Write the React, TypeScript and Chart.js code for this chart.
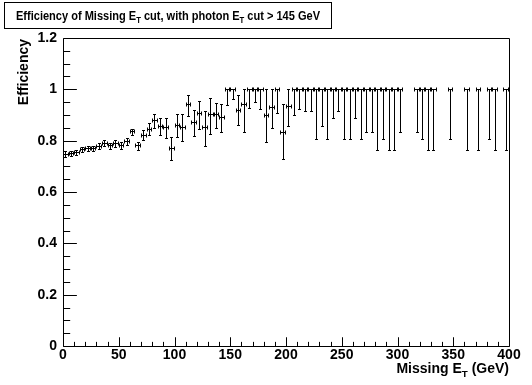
import React, { useEffect, useRef } from "react";
import { Chart, registerables } from "chart.js";
Chart.register(...registerables);

// Bin centres (GeV) of the filled bins, 5 GeV wide
const binCenters = [
  2.5, 7.5, 12.5, 17.5, 22.5, 27.5, 32.5, 37.5, 42.5, 47.5,
  52.5, 57.5, 62.5, 67.5, 72.5, 77.5, 82.5, 87.5, 92.5, 97.5,
  102.5, 107.5, 112.5, 117.5, 122.5, 127.5, 132.5, 137.5, 142.5, 147.5,
  152.5, 157.5, 162.5, 167.5, 172.5, 177.5, 182.5, 187.5, 192.5, 197.5,
  202.5, 207.5, 212.5, 217.5, 222.5, 227.5, 232.5, 237.5, 242.5, 247.5,
  252.5, 257.5, 262.5, 267.5, 272.5, 277.5, 282.5, 287.5, 292.5, 297.5,
  302.5, 317.5, 322.5, 327.5, 332.5, 347.5, 362.5, 372.5, 382.5, 387.5,
  397.5,
];
const efficiency = [
  0.748, 0.75, 0.755, 0.766, 0.769, 0.77, 0.779, 0.79, 0.78, 0.79,
  0.78, 0.796, 0.835, 0.78, 0.822, 0.845, 0.878, 0.857, 0.852, 0.77,
  0.861, 0.852, 0.941, 0.871, 0.904, 0.85, 0.901, 0.901, 0.889, 1.0,
  1.0, 0.919, 0.939, 1.0, 1.0, 1.0, 0.9, 0.928, 1.0, 0.832,
  0.935, 1.0, 1.0, 1.0, 1.0, 1.0, 1.0, 1.0, 1.0, 1.0,
  1.0, 1.0, 1.0, 1.0, 1.0, 1.0, 1.0, 1.0, 1.0, 1.0,
  1.0, 1.0, 1.0, 1.0, 1.0, 1.0, 1.0, 1.0, 1.0, 1.0,
  1.0,
];
const errorLow = [
  0.01, 0.01, 0.01, 0.01, 0.01, 0.011, 0.011, 0.012, 0.012, 0.013,
  0.013, 0.014, 0.012, 0.016, 0.02, 0.024, 0.029, 0.035, 0.04, 0.045,
  0.046, 0.055, 0.046, 0.052, 0.06, 0.072, 0.075, 0.05, 0.054, 0.061,
  0.039, 0.058, 0.105, 0.072, 0.051, 0.078, 0.104, 0.08, 0.091, 0.105,
  0.078, 0.1, 0.078, 0.083, 0.083, 0.195, 0.142, 0.195, 0.111, 0.083,
  0.195, 0.195, 0.111, 0.195, 0.165, 0.165, 0.236, 0.195, 0.236, 0.236,
  0.165, 0.165, 0.195, 0.236, 0.236, 0.195, 0.236, 0.236, 0.195, 0.236,
  0.236,
];
const errorHigh = [
  0.01, 0.01, 0.01, 0.01, 0.01, 0.011, 0.011, 0.012, 0.012, 0.013,
  0.013, 0.014, 0.012, 0.016, 0.019, 0.022, 0.026, 0.032, 0.037, 0.043,
  0.042, 0.05, 0.035, 0.047, 0.05, 0.065, 0.065, 0.045, 0.052, 0,
  0, 0.059, 0.061, 0, 0, 0, 0.1, 0.072, 0, 0.109,
  0.065, 0, 0, 0, 0, 0, 0, 0, 0, 0,
  0, 0, 0, 0, 0, 0, 0, 0, 0, 0,
  0, 0, 0, 0, 0, 0, 0, 0, 0, 0,
  0,
];
const binHalfWidth = 2.5;

const xMin = 0;
const xMax = 400;
const xMajorStep = 50;
const xMinorStep = 10;
const yMin = 0;
const yMax = 1.2;
const yMajorStep = 0.2;
const yMinorStep = 0.05;

const titleParts: [string, boolean][] = [
  ["Efficiency of Missing E", false],
  ["T", true],
  [" cut, with photon E", false],
  ["T", true],
  [" cut > 145 GeV", false],
];
const xTitleParts: [string, boolean][] = [
  ["Missing E", false],
  ["T", true],
  [" (GeV)", false],
];
const yTitle = "Efficiency";

const FONT = '"Liberation Sans", Arial, Helvetica, sans-serif';

function measureParts(ctx: CanvasRenderingContext2D, parts: [string, boolean][], size: number) {
  const subSize = size * 0.7;
  return parts.map(([t, sub]) => {
    ctx.font = `bold ${sub ? subSize : size}px ${FONT}`;
    return ctx.measureText(t).width;
  });
}

function drawParts(
  ctx: CanvasRenderingContext2D,
  parts: [string, boolean][],
  x: number,
  y: number,
  size: number,
  align: "left" | "right"
) {
  const subSize = size * 0.7;
  const widths = measureParts(ctx, parts, size);
  const total = widths.reduce((a, b) => a + b, 0);
  let cx = align === "left" ? x : x - total;
  ctx.textAlign = "left";
  ctx.textBaseline = "alphabetic";
  parts.forEach(([t, sub], i) => {
    ctx.font = `bold ${sub ? subSize : size}px ${FONT}`;
    ctx.fillText(t, cx, sub ? y + size * 0.3 : y);
    cx += widths[i];
  });
  return total;
}

const rootStyle = {
  id: "rootStyle",
  afterDatasetsDraw(chart: any) {
    const { ctx, scales } = chart;
    const xs = scales.x;
    const ys = scales.y;
    ctx.save();
    ctx.strokeStyle = "#000";
    ctx.lineWidth = 1;
    const data = chart.data.datasets[0].data as any[];
    data.forEach((p) => {
      const cx = Math.floor(xs.getPixelForValue(p.x)) + 0.5;
      const cy = Math.floor(ys.getPixelForValue(p.y)) + 0.5;
      const x0 = Math.round(xs.getPixelForValue(p.x - binHalfWidth)) + 0.5;
      const x1 = Math.round(xs.getPixelForValue(p.x + binHalfWidth)) - 0.5;
      const yl = Math.round(ys.getPixelForValue(p.y - p.lo)) + 0.5;
      const yh = Math.round(ys.getPixelForValue(p.y + p.hi)) + 0.5;
      ctx.beginPath();
      ctx.moveTo(x0, cy);
      ctx.lineTo(x1, cy);
      ctx.moveTo(x0, cy - 2);
      ctx.lineTo(x0, cy + 2);
      ctx.moveTo(x1, cy - 2);
      ctx.lineTo(x1, cy + 2);
      if (yl - cy > 0.6) {
        ctx.moveTo(cx, cy);
        ctx.lineTo(cx, yl);
        ctx.moveTo(cx - 1.5, yl);
        ctx.lineTo(cx + 1.5, yl);
      }
      if (cy - yh > 0.6) {
        ctx.moveTo(cx, cy);
        ctx.lineTo(cx, yh);
        ctx.moveTo(cx - 1.5, yh);
        ctx.lineTo(cx + 1.5, yh);
      }
      ctx.stroke();
    });
    ctx.restore();
  },
  afterDraw(chart: any) {
    const { ctx, chartArea: a, scales } = chart;
    const xs = scales.x;
    const ys = scales.y;
    ctx.save();
    ctx.strokeStyle = "#000";
    ctx.lineWidth = 1;
    const L = Math.round(a.left) + 0.5;
    const R = Math.round(a.right) + 0.5;
    const T = Math.round(a.top) + 0.5;
    const B = Math.round(a.bottom) + 0.5;
    ctx.beginPath();
    ctx.rect(L, T, R - L, B - T);
    ctx.stroke();
    const h = B - T;
    const w = R - L;
    const xMajLen = 0.03 * h;
    const yMajLen = 0.03 * w;
    ctx.beginPath();
    for (let i = 0; xMin + i * xMinorStep <= xMax + 1e-9; i++) {
      const v = xMin + i * xMinorStep;
      const px = Math.round(xs.getPixelForValue(v)) + 0.5;
      const isMaj = Math.abs(v / xMajorStep - Math.round(v / xMajorStep)) < 1e-6;
      ctx.moveTo(px, B);
      ctx.lineTo(px, B - (isMaj ? xMajLen : xMajLen / 2));
    }
    for (let i = 0; yMin + i * yMinorStep <= yMax + 1e-9; i++) {
      const v = yMin + i * yMinorStep;
      const py = Math.round(ys.getPixelForValue(v)) + 0.5;
      const isMaj = Math.abs(v / yMajorStep - Math.round(v / yMajorStep)) < 1e-6;
      ctx.moveTo(L, py);
      ctx.lineTo(L + (isMaj ? yMajLen : yMajLen / 2), py);
    }
    ctx.stroke();

    // title box
    ctx.fillStyle = "#fff";
    ctx.fillRect(4.5, 2.5, 327, 26);
    ctx.strokeRect(4.5, 2.5, 327, 26);
    ctx.fillStyle = "#000";
    const size = 12.5;
    const natural = measureParts(ctx, titleParts, size).reduce((s, v) => s + v, 0);
    const target = 304;
    const sx = Math.min(1, target / natural);
    ctx.save();
    ctx.translate(4.5 + (327 - natural * sx) / 2, 0);
    ctx.scale(sx, 1);
    drawParts(ctx, titleParts, 0, 19.5, size, "left");
    ctx.restore();

    // x title
    drawParts(ctx, xTitleParts, 509, 373, 14, "right");

    // y title
    ctx.save();
    ctx.translate(28, a.top + 1);
    ctx.rotate(-Math.PI / 2);
    ctx.font = `bold 14px ${FONT}`;
    ctx.textAlign = "right";
    ctx.textBaseline = "alphabetic";
    ctx.fillText(yTitle, 0, 0);
    ctx.restore();
    ctx.restore();
  },
};

export default function App() {
  const ref = useRef<HTMLCanvasElement | null>(null);
  useEffect(() => {
    if (!ref.current) return;
    const tickFont = { family: FONT, size: 14, weight: "bold" as const };
    const chart = new Chart(ref.current, {
      type: "scatter",
      data: {
        datasets: [
          {
            data: binCenters.map((x, i) => ({
              x,
              y: efficiency[i],
              lo: errorLow[i],
              hi: errorHigh[i],
            })) as any,
            pointRadius: 0,
            showLine: false,
          },
        ],
      },
      options: {
        responsive: false,
        animation: false,
        layout: { padding: { top: 38, right: 23, left: 0, bottom: 0 } },
        plugins: {
          legend: { display: false },
          tooltip: { enabled: false },
          title: { display: false },
        },
        scales: {
          x: {
            type: "linear",
            min: xMin,
            max: xMax,
            grid: { display: false, drawTicks: false },
            border: { display: false },
            ticks: {
              stepSize: xMajorStep,
              padding: 1,
              color: "#000",
              font: tickFont,
              maxRotation: 0,
              autoSkip: false,
            },
            afterFit: (s: any) => {
              s.height = 39;
            },
          },
          y: {
            type: "linear",
            min: yMin,
            max: yMax,
            grid: { display: false, drawTicks: false },
            border: { display: false },
            ticks: {
              stepSize: yMajorStep,
              padding: 6,
              color: "#000",
              font: tickFont,
              callback: (v: any) => String(Number(Number(v).toFixed(2))),
            },
            afterFit: (s: any) => {
              s.width = 63;
            },
          },
        },
      },
      plugins: [rootStyle],
    });
    return () => chart.destroy();
  }, []);
  return (
    <div style={{ position: "fixed", left: 0, top: 0, width: 532, height: 385, background: "#fff" }}>
      <canvas ref={ref} width={532} height={385} style={{ display: "block" }} />
    </div>
  );
}
